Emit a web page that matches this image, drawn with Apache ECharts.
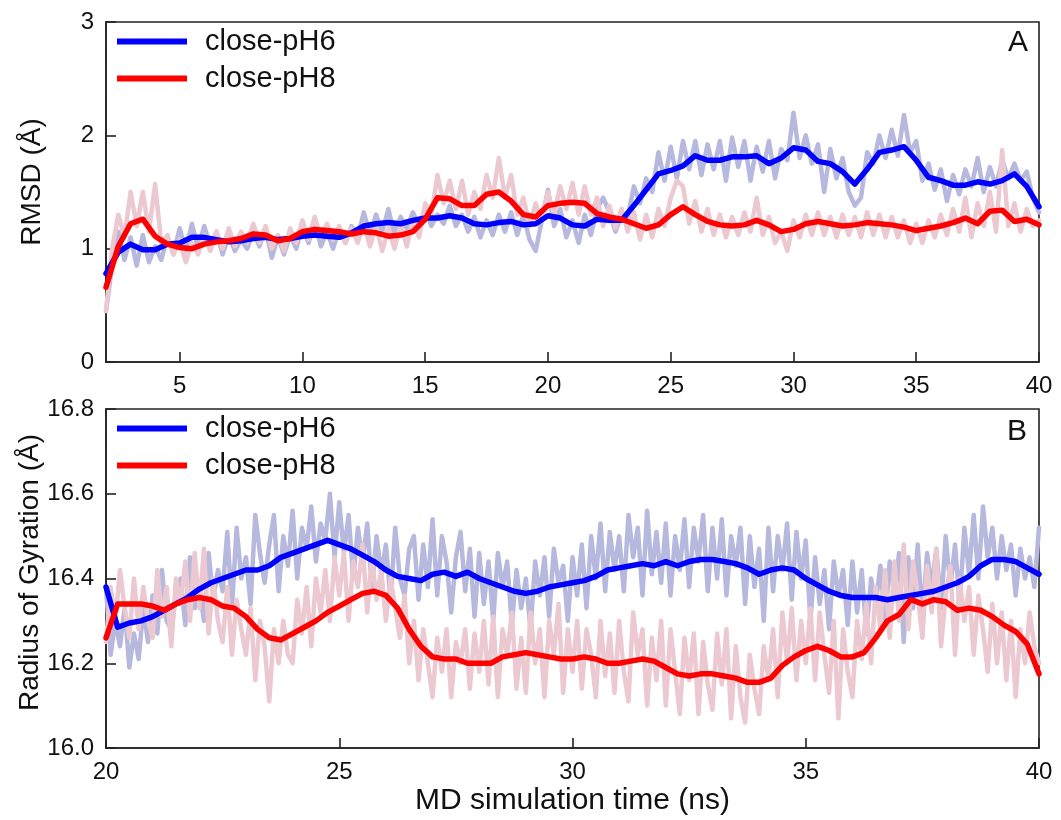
<!DOCTYPE html>
<html>
<head>
<meta charset="utf-8">
<script src="https://cdn.jsdelivr.net/npm/echarts@6/dist/echarts.min.js"></script>
<style>
  html, body { margin: 0; padding: 0; background: #fff; }
  #chart { width: 1061px; height: 820px; }
</style>
</head>
<body>
<div id="chart"></div>
<script>
// ---------------- DATA ----------------
const seriesNames = ['close-pH6', 'close-pH8'];
const panelLabels = ['A', 'B'];
const xTitle = 'MD simulation time (ns)';
const yTitleA = 'RMSD (Å)';
const yTitleB = 'Radius of Gyration (Å)';

// Panel A: time range and tick labels
const rangeA = [2, 40];
const xTicksA = [5, 10, 15, 20, 25, 30, 35, 40];
// Panel B: time range
const rangeB = [20, 40];

// Panel A raw RMSD, every 0.25 ns from 2 to 40 ns
const rmsdRawPH6 = [
  0.45, 0.85, 1.15, 0.90,
  1.10, 0.85, 1.12, 0.88,
  1.02, 0.90, 1.10, 0.95,
  1.18, 0.98, 1.22, 1.00,
  1.20, 1.02, 1.15, 0.95,
  1.12, 0.98, 1.08, 1.00,
  1.15, 1.02, 1.18, 0.92,
  1.10, 0.95, 1.12, 1.00,
  1.20, 1.05, 1.25, 1.02,
  1.15, 1.00, 1.18, 1.05,
  1.20, 1.10, 1.32, 1.12,
  1.30, 1.15, 1.35, 1.12,
  1.28, 1.18, 1.32, 1.20,
  1.35, 1.20, 1.30, 1.22,
  1.38, 1.20, 1.30, 1.15,
  1.28, 1.10, 1.25, 1.12,
  1.30, 1.15, 1.32, 1.12,
  1.30, 1.08, 0.98, 1.25,
  1.52, 1.20, 1.35, 1.10,
  1.25, 1.05, 1.30, 1.12,
  1.35, 1.45, 1.32, 1.15,
  1.30, 1.28, 1.55, 1.40,
  1.62, 1.50, 1.85, 1.60,
  1.90, 1.62, 1.95, 1.70,
  1.95, 1.65, 1.92, 1.70,
  1.95, 1.60, 1.98, 1.72,
  1.95, 1.60, 1.90, 1.68,
  1.95, 1.62, 1.88, 1.78,
  2.20, 1.80, 2.00, 1.75,
  1.92, 1.50, 1.88, 1.62,
  1.80, 1.50, 1.38, 1.45,
  1.85, 1.75, 2.00, 1.80,
  2.05, 1.82, 2.18, 1.85,
  1.95, 1.60, 1.75, 1.52,
  1.70, 1.42, 1.65, 1.48,
  1.70, 1.55, 1.80, 1.50,
  1.72, 1.55, 1.78, 1.62,
  1.75, 1.60, 1.68, 1.45,
  1.32
];
const rmsdRawPH8 = [
  0.45, 1.00, 1.30, 1.10,
  1.50, 1.20, 1.50, 1.15,
  1.57, 1.05, 1.12, 0.95,
  1.08, 0.88, 1.05, 0.95,
  1.12, 0.98, 1.15, 1.00,
  1.18, 1.02, 1.15, 1.05,
  1.22, 1.05, 1.20, 1.00,
  1.12, 0.98, 1.18, 1.05,
  1.25, 1.08, 1.28, 1.10,
  1.22, 1.08, 1.20, 1.05,
  1.18, 1.05, 1.22, 1.02,
  1.20, 0.98, 1.18, 1.00,
  1.22, 1.02, 1.25, 1.10,
  1.40, 1.30, 1.65, 1.40,
  1.60, 1.35, 1.60, 1.30,
  1.50, 1.35, 1.65, 1.45,
  1.80, 1.45, 1.65, 1.30,
  1.45, 1.20, 1.40, 1.25,
  1.50, 1.30, 1.55, 1.35,
  1.58, 1.30, 1.55, 1.30,
  1.45, 1.20, 1.38, 1.18,
  1.35, 1.15, 1.32, 1.08,
  1.30, 1.10, 1.35, 1.20,
  1.45, 1.60, 1.55, 1.22,
  1.42, 1.15, 1.35, 1.12,
  1.30, 1.10, 1.28, 1.12,
  1.32, 1.15, 1.45, 1.12,
  1.28, 1.05, 1.15, 0.98,
  1.25, 1.10, 1.30, 1.12,
  1.32, 1.12, 1.28, 1.10,
  1.30, 1.12, 1.28, 1.10,
  1.32, 1.12, 1.30, 1.10,
  1.28, 1.10, 1.25, 1.05,
  1.22, 1.05, 1.25, 1.10,
  1.30, 1.12, 1.35, 1.15,
  1.45, 1.10, 1.40, 1.20,
  1.50, 1.15, 1.87, 1.20,
  1.40, 1.15, 1.35, 1.20,
  1.25
];
// Panel A smoothed RMSD, every 0.5 ns from 2 to 40 ns
const rmsdSmoothPH6 = [
  0.78, 0.97, 1.04, 0.99, 0.99, 1.04, 1.05, 1.10, 1.10, 1.08,
  1.06, 1.07, 1.09, 1.10, 1.08, 1.09, 1.11, 1.12, 1.11, 1.10,
  1.14, 1.20, 1.22, 1.23, 1.22, 1.25, 1.27, 1.27, 1.29, 1.27,
  1.22, 1.21, 1.23, 1.24, 1.21, 1.22, 1.29, 1.27, 1.21, 1.20,
  1.26, 1.25, 1.25, 1.38, 1.52, 1.66, 1.69, 1.73, 1.82, 1.78,
  1.78, 1.81, 1.81, 1.82, 1.75, 1.80, 1.89, 1.87, 1.77, 1.75,
  1.68, 1.57, 1.70, 1.85, 1.87, 1.90, 1.78, 1.63, 1.60, 1.56,
  1.56, 1.59, 1.57, 1.60, 1.66, 1.55, 1.37
];
const rmsdSmoothPH8 = [
  0.66, 1.02, 1.22, 1.26, 1.11, 1.04, 1.01, 1.00, 1.04, 1.06,
  1.07, 1.09, 1.13, 1.12, 1.07, 1.09, 1.15, 1.17, 1.16, 1.15,
  1.13, 1.15, 1.14, 1.11, 1.12, 1.15, 1.26, 1.45, 1.44, 1.38,
  1.38, 1.48, 1.50, 1.42, 1.30, 1.28, 1.38, 1.40, 1.41, 1.40,
  1.31, 1.28, 1.26, 1.22, 1.18, 1.21, 1.30, 1.37, 1.30, 1.24,
  1.21, 1.20, 1.21, 1.25, 1.21, 1.15, 1.17, 1.22, 1.24, 1.22,
  1.20, 1.21, 1.23, 1.22, 1.21, 1.19, 1.16, 1.18, 1.20, 1.23,
  1.27, 1.22, 1.33, 1.34, 1.24, 1.26, 1.21
];

// Panel B raw radius of gyration, every 0.1 ns from 20 to 40 ns
const rgRawPH6 = [
  16.38, 16.22, 16.30, 16.24, 16.33, 16.19, 16.27, 16.21, 16.33, 16.25,
  16.36, 16.27, 16.42, 16.30, 16.28, 16.36, 16.40, 16.29, 16.45, 16.33,
  16.38, 16.30, 16.46, 16.35, 16.42, 16.37, 16.51, 16.33, 16.52, 16.40,
  16.45, 16.34, 16.55, 16.46, 16.39, 16.48, 16.55, 16.37, 16.50, 16.43,
  16.56, 16.40, 16.52, 16.47, 16.57, 16.44, 16.53, 16.49, 16.60, 16.45,
  16.58, 16.46, 16.55, 16.40, 16.52, 16.44, 16.53, 16.38, 16.50, 16.41,
  16.48, 16.35, 16.52, 16.40, 16.36, 16.47, 16.50, 16.35, 16.48, 16.38,
  16.54, 16.36, 16.50, 16.44, 16.32, 16.45, 16.51, 16.37, 16.47, 16.31,
  16.46, 16.34, 16.44, 16.30, 16.46, 16.38, 16.44, 16.29, 16.42, 16.33,
  16.40, 16.28, 16.44, 16.36, 16.45, 16.31, 16.47, 16.39, 16.43, 16.30,
  16.45, 16.36, 16.48, 16.33, 16.50, 16.40, 16.53, 16.37, 16.51, 16.42,
  16.50, 16.37, 16.55, 16.45, 16.52, 16.36, 16.56, 16.41, 16.51, 16.39,
  16.53, 16.36, 16.50, 16.42, 16.54, 16.38, 16.52, 16.44, 16.55, 16.37,
  16.52, 16.40, 16.54, 16.36, 16.50, 16.43, 16.52, 16.34, 16.50, 16.38,
  16.47, 16.30, 16.52, 16.37, 16.50, 16.42, 16.53, 16.35, 16.51, 16.40,
  16.49, 16.30, 16.45, 16.34, 16.42, 16.28, 16.44, 16.36, 16.42, 16.29,
  16.44, 16.32, 16.42, 16.27, 16.40, 16.34, 16.43, 16.30, 16.44, 16.36,
  16.46, 16.25, 16.45, 16.33, 16.48, 16.30, 16.46, 16.38, 16.47, 16.33,
  16.50, 16.38, 16.48, 16.34, 16.52, 16.41, 16.55, 16.40, 16.57, 16.45,
  16.52, 16.40, 16.50, 16.42, 16.48, 16.36, 16.47, 16.40, 16.45, 16.38,
  16.52
];
const rgRawPH8 = [
  16.25, 16.38, 16.30, 16.42, 16.33, 16.26, 16.40, 16.28, 16.38, 16.30,
  16.26, 16.42, 16.31, 16.38, 16.24, 16.40, 16.34, 16.44, 16.30, 16.46,
  16.33, 16.47, 16.27, 16.40, 16.30, 16.25, 16.38, 16.22, 16.35, 16.28,
  16.22, 16.33, 16.16, 16.30, 16.24, 16.11, 16.28, 16.20, 16.30, 16.22,
  16.20, 16.35, 16.27, 16.38, 16.24, 16.40, 16.32, 16.42, 16.30, 16.45,
  16.36, 16.46, 16.30, 16.44, 16.38, 16.48, 16.32, 16.45, 16.35, 16.42,
  16.30, 16.40, 16.33, 16.26, 16.36, 16.20, 16.30, 16.16, 16.28, 16.20,
  16.12, 16.26, 16.18, 16.28, 16.12, 16.25, 16.20, 16.28, 16.14, 16.27,
  16.18, 16.30, 16.15, 16.31, 16.12, 16.28, 16.22, 16.32, 16.14, 16.26,
  16.13, 16.32, 16.20, 16.28, 16.12, 16.30, 16.22, 16.34, 16.13, 16.28,
  16.18, 16.30, 16.14, 16.28, 16.22, 16.12, 16.30, 16.17, 16.27, 16.13,
  16.30, 16.18, 16.11, 16.32, 16.22, 16.28, 16.10, 16.26, 16.16, 16.30,
  16.10, 16.28, 16.18, 16.08, 16.26, 16.16, 16.27, 16.08, 16.25, 16.15,
  16.09, 16.27, 16.15, 16.28, 16.07, 16.24, 16.12, 16.06, 16.22, 16.14,
  16.08, 16.24, 16.16, 16.28, 16.12, 16.32, 16.20, 16.33, 16.16, 16.30,
  16.20, 16.33, 16.16, 16.32, 16.22, 16.13, 16.30, 16.07, 16.28, 16.18,
  16.12, 16.30, 16.21, 16.34, 16.20, 16.38, 16.28, 16.42, 16.26, 16.44,
  16.30, 16.48, 16.28, 16.44, 16.36, 16.26, 16.43, 16.32, 16.47, 16.24,
  16.36, 16.43, 16.22, 16.40, 16.30, 16.38, 16.22, 16.36, 16.28, 16.18,
  16.34, 16.20, 16.32, 16.16, 16.30, 16.12, 16.28, 16.20, 16.32, 16.24,
  16.20
];
// Panel B smoothed radius of gyration, every 0.25 ns from 20 to 40 ns
const rgSmoothPH6 = [
  16.38, 16.285, 16.295, 16.30,
  16.31, 16.325, 16.34, 16.355,
  16.375, 16.39, 16.40, 16.41,
  16.42, 16.42, 16.43, 16.45,
  16.46, 16.47, 16.48, 16.49,
  16.48, 16.47, 16.455, 16.44,
  16.42, 16.405, 16.40, 16.395,
  16.41, 16.415, 16.405, 16.415,
  16.40, 16.39, 16.38, 16.37,
  16.365, 16.37, 16.38, 16.385,
  16.39, 16.395, 16.405, 16.42,
  16.425, 16.43, 16.435, 16.43,
  16.44, 16.43, 16.44, 16.445,
  16.445, 16.44, 16.435, 16.425,
  16.41, 16.42, 16.425, 16.42,
  16.40, 16.385, 16.37, 16.36,
  16.355, 16.355, 16.355, 16.35,
  16.355, 16.36, 16.365, 16.37,
  16.38, 16.39, 16.405, 16.43,
  16.445, 16.445, 16.44, 16.425,
  16.41
];
const rgSmoothPH8 = [
  16.26, 16.34, 16.34, 16.34,
  16.335, 16.325, 16.34, 16.35,
  16.355, 16.35, 16.335, 16.33,
  16.31, 16.28, 16.26, 16.255,
  16.27, 16.285, 16.30, 16.32,
  16.335, 16.35, 16.365, 16.37,
  16.36, 16.33, 16.28, 16.24,
  16.215, 16.21, 16.21, 16.20,
  16.20, 16.20, 16.215, 16.22,
  16.225, 16.22, 16.215, 16.21,
  16.21, 16.215, 16.21, 16.20,
  16.20, 16.205, 16.21, 16.205,
  16.19, 16.175, 16.17, 16.175,
  16.175, 16.17, 16.165, 16.155,
  16.155, 16.165, 16.195, 16.215,
  16.23, 16.24, 16.23, 16.215,
  16.215, 16.225, 16.26, 16.30,
  16.315, 16.35, 16.34, 16.35,
  16.345, 16.325, 16.33, 16.325,
  16.31, 16.29, 16.275, 16.245,
  16.175
];

// ---------------- BUILD ----------------
const FONT = "'Liberation Sans', Arial, Helvetica, sans-serif";
const AX = '#222';
function evenTimes(range, n) {
  const out = [];
  for (let i = 0; i < n; i++) out.push(range[0] + (range[1] - range[0]) * i / (n - 1));
  return out;
}
function toPairs(range, vals) {
  const t = evenTimes(range, vals.length);
  return vals.map((v, i) => [t[i], v]);
}

const BLUE = '#0000ff', RED = '#ff0000';
const BLUE_RAW = '#b6b9dd', RED_RAW = '#ecc8d0';

function rawSeries(name, xi, data, color) {
  return {
    name: name, type: 'line', xAxisIndex: xi, yAxisIndex: xi, data: data,
    showSymbol: false, symbol: 'none', silent: true, z: 1,
    lineStyle: { color: color, width: 4.5, join: 'round', cap: 'round' }, itemStyle: { color: color }
  };
}
function smoothSeries(name, xi, data, color, z) {
  return {
    name: name, type: 'line', xAxisIndex: xi, yAxisIndex: xi, data: data,
    showSymbol: false, symbol: 'none', silent: true, z: z,
    lineStyle: { color: color, width: 5.5, join: 'round', cap: 'round' }, itemStyle: { color: color }
  };
}

const labelStyle = { fontFamily: FONT, fontSize: 24, color: '#111' };
const legendBase = {
  orient: 'vertical', left: 117, padding: 0, itemWidth: 70, itemHeight: 6, itemGap: 8,
  icon: 'rect', selectedMode: false, data: seriesNames,
  textStyle: { fontFamily: FONT, fontSize: 29, color: '#111', padding: [0, 0, 0, 13] }
};

const option = {
  animation: false,
  backgroundColor: '#fff',
  title: [
    { text: panelLabels[0], right: 33, top: 28, padding: 0,
      textStyle: { fontFamily: FONT, fontSize: 30, fontWeight: 'normal', color: '#111' } },
    { text: panelLabels[1], right: 34, top: 417, padding: 0,
      textStyle: { fontFamily: FONT, fontSize: 30, fontWeight: 'normal', color: '#111' } }
  ],
  legend: [
    Object.assign({}, legendBase, { id: 'lgA', top: 27 }),
    Object.assign({}, legendBase, { id: 'lgB', top: 414 })
  ],
  grid: [
    { left: 106, right: 22, top: 22, height: 340, show: true, borderColor: AX, borderWidth: 1.6 },
    { left: 106, right: 22, top: 409, height: 339, show: true, borderColor: AX, borderWidth: 1.6 }
  ],
  xAxis: [
    { type: 'value', gridIndex: 0, min: rangeA[0], max: rangeA[1],
      axisLine: { show: true, lineStyle: { color: AX, width: 1.6 } },
      axisTick: { show: true, inside: true, length: 10, lineStyle: { color: AX, width: 1.6 }, customValues: xTicksA },
      axisLabel: Object.assign({ margin: 12, customValues: xTicksA }, labelStyle),
      splitLine: { show: false } },
    { type: 'value', gridIndex: 1, min: rangeB[0], max: rangeB[1], interval: 5,
      name: xTitle, nameLocation: 'middle', nameGap: 38, nameMoveOverlap: false,
      nameTextStyle: { fontFamily: FONT, fontSize: 30, color: '#111' },
      axisLine: { show: true, lineStyle: { color: AX, width: 1.6 } },
      axisTick: { show: true, inside: true, length: 10, lineStyle: { color: AX, width: 1.6 } },
      axisLabel: Object.assign({ margin: 12 }, labelStyle),
      splitLine: { show: false } }
  ],
  yAxis: [
    { type: 'value', gridIndex: 0, min: 0, max: 3, interval: 1,
      name: yTitleA, nameLocation: 'middle', nameGap: 60, nameMoveOverlap: false,
      nameTextStyle: { fontFamily: FONT, fontSize: 28, color: '#111', padding: [0, 0, 0, 20] },
      axisLine: { show: true, lineStyle: { color: AX, width: 1.6 } },
      axisTick: { show: true, inside: true, length: 10, lineStyle: { color: AX, width: 1.6 } },
      axisLabel: Object.assign({ margin: 12 }, labelStyle),
      splitLine: { show: false } },
    { type: 'value', gridIndex: 1, min: 16.0, max: 16.8, interval: 0.2,
      name: yTitleB, nameLocation: 'middle', nameGap: 62, nameMoveOverlap: false,
      nameTextStyle: { fontFamily: FONT, fontSize: 28, color: '#111', padding: [0, 0, 0, 12] },
      axisLine: { show: true, lineStyle: { color: AX, width: 1.6 } },
      axisTick: { show: true, inside: true, length: 10, lineStyle: { color: AX, width: 1.6 } },
      axisLabel: Object.assign({ margin: 12, formatter: v => v.toFixed(1) }, labelStyle),
      splitLine: { show: false } }
  ],
  series: [
    rawSeries(seriesNames[0] + ' raw A', 0, toPairs(rangeA, rmsdRawPH6), BLUE_RAW),
    rawSeries(seriesNames[1] + ' raw A', 0, toPairs(rangeA, rmsdRawPH8), RED_RAW),
    smoothSeries(seriesNames[0], 0, toPairs(rangeA, rmsdSmoothPH6), BLUE, 3),
    smoothSeries(seriesNames[1], 0, toPairs(rangeA, rmsdSmoothPH8), RED, 4),
    rawSeries(seriesNames[0] + ' raw B', 1, toPairs(rangeB, rgRawPH6), BLUE_RAW),
    rawSeries(seriesNames[1] + ' raw B', 1, toPairs(rangeB, rgRawPH8), RED_RAW),
    smoothSeries(seriesNames[0], 1, toPairs(rangeB, rgSmoothPH6), BLUE, 3),
    smoothSeries(seriesNames[1], 1, toPairs(rangeB, rgSmoothPH8), RED, 4)
  ]
};

const chart = echarts.init(document.getElementById('chart'), null, { renderer: 'canvas' });
chart.setOption(option);
</script>
</body>
</html>
